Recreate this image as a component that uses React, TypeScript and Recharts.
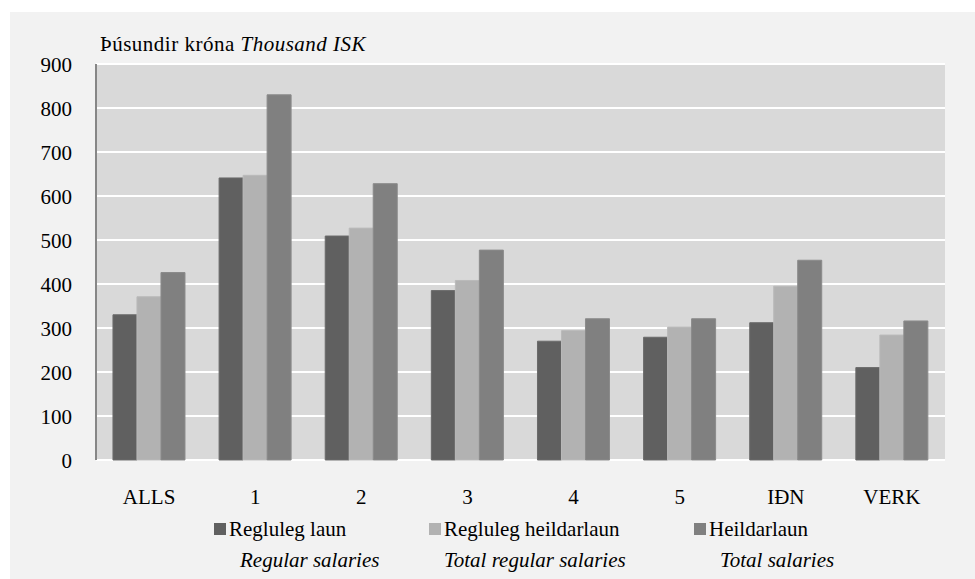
import React from "react"
import { BarChart, Bar, XAxis, YAxis, CartesianGrid, Legend } from "recharts"

const categories = ["ALLS", "1", "2", "3", "4", "5", "IÐN", "VERK"]
const reglulegLaun = [330, 641, 509, 385, 270, 279, 312, 210]
const reglulegHeildarlaun = [371, 647, 527, 408, 294, 302, 395, 284]
const heildarlaun = [426, 830, 628, 477, 321, 321, 454, 316]
const yTicks = [0, 100, 200, 300, 400, 500, 600, 700, 800, 900]
const edgeTicks = [0, 1, 2, 3, 4, 5, 6, 7, 8]

const seriesNames = ["Regluleg laun", "Regluleg heildarlaun", "Heildarlaun"]
const seriesEnglish = ["Regular salaries", "Total regular salaries", "Total salaries"]
const seriesColors = ["#606060", "#b2b2b2", "#808080"]
const seriesStrokes = ["#6a6a6a", "#bababa", "#8a8a8a"]

const data = categories.map((name, i) => ({
  name,
  pos: i + 0.5,
  r: reglulegLaun[i],
  rh: reglulegHeildarlaun[i],
  h: heildarlaun[i],
}))

const FONT = "'Liberation Serif', 'Times New Roman', serif"
const FS = 21

// legend item positions (square left, text left, english left)
const legendPos = [
  [214, 229, 240],
  [429, 444, 444],
  [694, 709, 720],
]

function renderLegend() {
  return (
    <div style={{ position: "relative", width: 975, height: 60, fontFamily: FONT, fontSize: FS, color: "#000" }}>
      {seriesNames.map((n, i) => (
        <React.Fragment key={n}>
          <div style={{ position: "absolute", left: legendPos[i][0], top: 11, width: 12, height: 12, background: seriesColors[i] }} />
          <div style={{ position: "absolute", left: legendPos[i][1], top: 7, lineHeight: "20px", whiteSpace: "nowrap" }}>{n}</div>
          <div style={{ position: "absolute", left: legendPos[i][2], top: 38, lineHeight: "20px", whiteSpace: "nowrap", fontStyle: "italic" }}>
            {seriesEnglish[i]}
          </div>
        </React.Fragment>
      ))}
    </div>
  )
}

function CatTick(props: any) {
  const { x, y, payload } = props
  return (
    <text x={x} y={y + 36} textAnchor="middle" fontFamily={FONT} fontSize={FS} fill="#000">
      {payload.value}
    </text>
  )
}

export default function App() {
  return (
    <div style={{ position: "absolute", left: 0, top: 0, width: 975, height: 579, background: "#fff", overflow: "hidden" }}>
      <div style={{ position: "absolute", left: 10, top: 12, width: 965, height: 567, background: "#f2f2f2" }} />
      <div
        style={{
          position: "absolute",
          left: 100,
          top: 34,
          fontFamily: FONT,
          fontSize: FS,
          lineHeight: "20px",
          whiteSpace: "nowrap",
          color: "#000",
          letterSpacing: "0.5px",
        }}
      >
        Þúsundir króna <i>Thousand ISK</i>
      </div>
      <div style={{ position: "absolute", left: 0, top: 0 }}>
        <BarChart
          width={975}
          height={579}
          data={data}
          margin={{ top: 64, right: 30, left: 0, bottom: 19 }}
          barCategoryGap="16%"
          barGap={0}
        >
          <CartesianGrid vertical={false} stroke="#ffffff" strokeWidth={2} fill="#d9d9d9" />
          <XAxis
            xAxisId="edge"
            type="number"
            dataKey="pos"
            domain={[0, categories.length]}
            ticks={edgeTicks}
            allowDataOverflow
            height={0}
            tick={false}
            tickSize={6}
            axisLine={{ stroke: "#868686", strokeWidth: 2.5 }}
            tickLine={{ stroke: "#868686", strokeWidth: 2 }}
          />
          <XAxis
            xAxisId="cat"
            dataKey="name"
            height={40}
            axisLine={false}
            tickLine={false}
            tickSize={6}
            tickMargin={2}
            interval={0}
            tick={<CatTick />}
          />
          <YAxis
            width={96}
            domain={[0, 900]}
            ticks={yTicks}
            interval={0}
            tickLine={false}
            tickSize={6}
            tickMargin={18}
            axisLine={{ stroke: "#868686", strokeWidth: 2 }}
            tick={{ fontFamily: FONT, fontSize: FS, fill: "#000", dy: 1 }}
          />
          <Legend
            verticalAlign="bottom"
            content={renderLegend}
            wrapperStyle={{ position: "absolute", left: 0, top: 512, width: 975, height: 60 }}
          />
          <Bar xAxisId="cat" dataKey="r" name={seriesNames[0]} fill={seriesColors[0]} stroke={seriesStrokes[0]} strokeWidth={1} isAnimationActive={false} />
          <Bar xAxisId="cat" dataKey="rh" name={seriesNames[1]} fill={seriesColors[1]} stroke={seriesStrokes[1]} strokeWidth={1} isAnimationActive={false} />
          <Bar xAxisId="cat" dataKey="h" name={seriesNames[2]} fill={seriesColors[2]} stroke={seriesStrokes[2]} strokeWidth={1} isAnimationActive={false} />
        </BarChart>
      </div>
    </div>
  )
}
